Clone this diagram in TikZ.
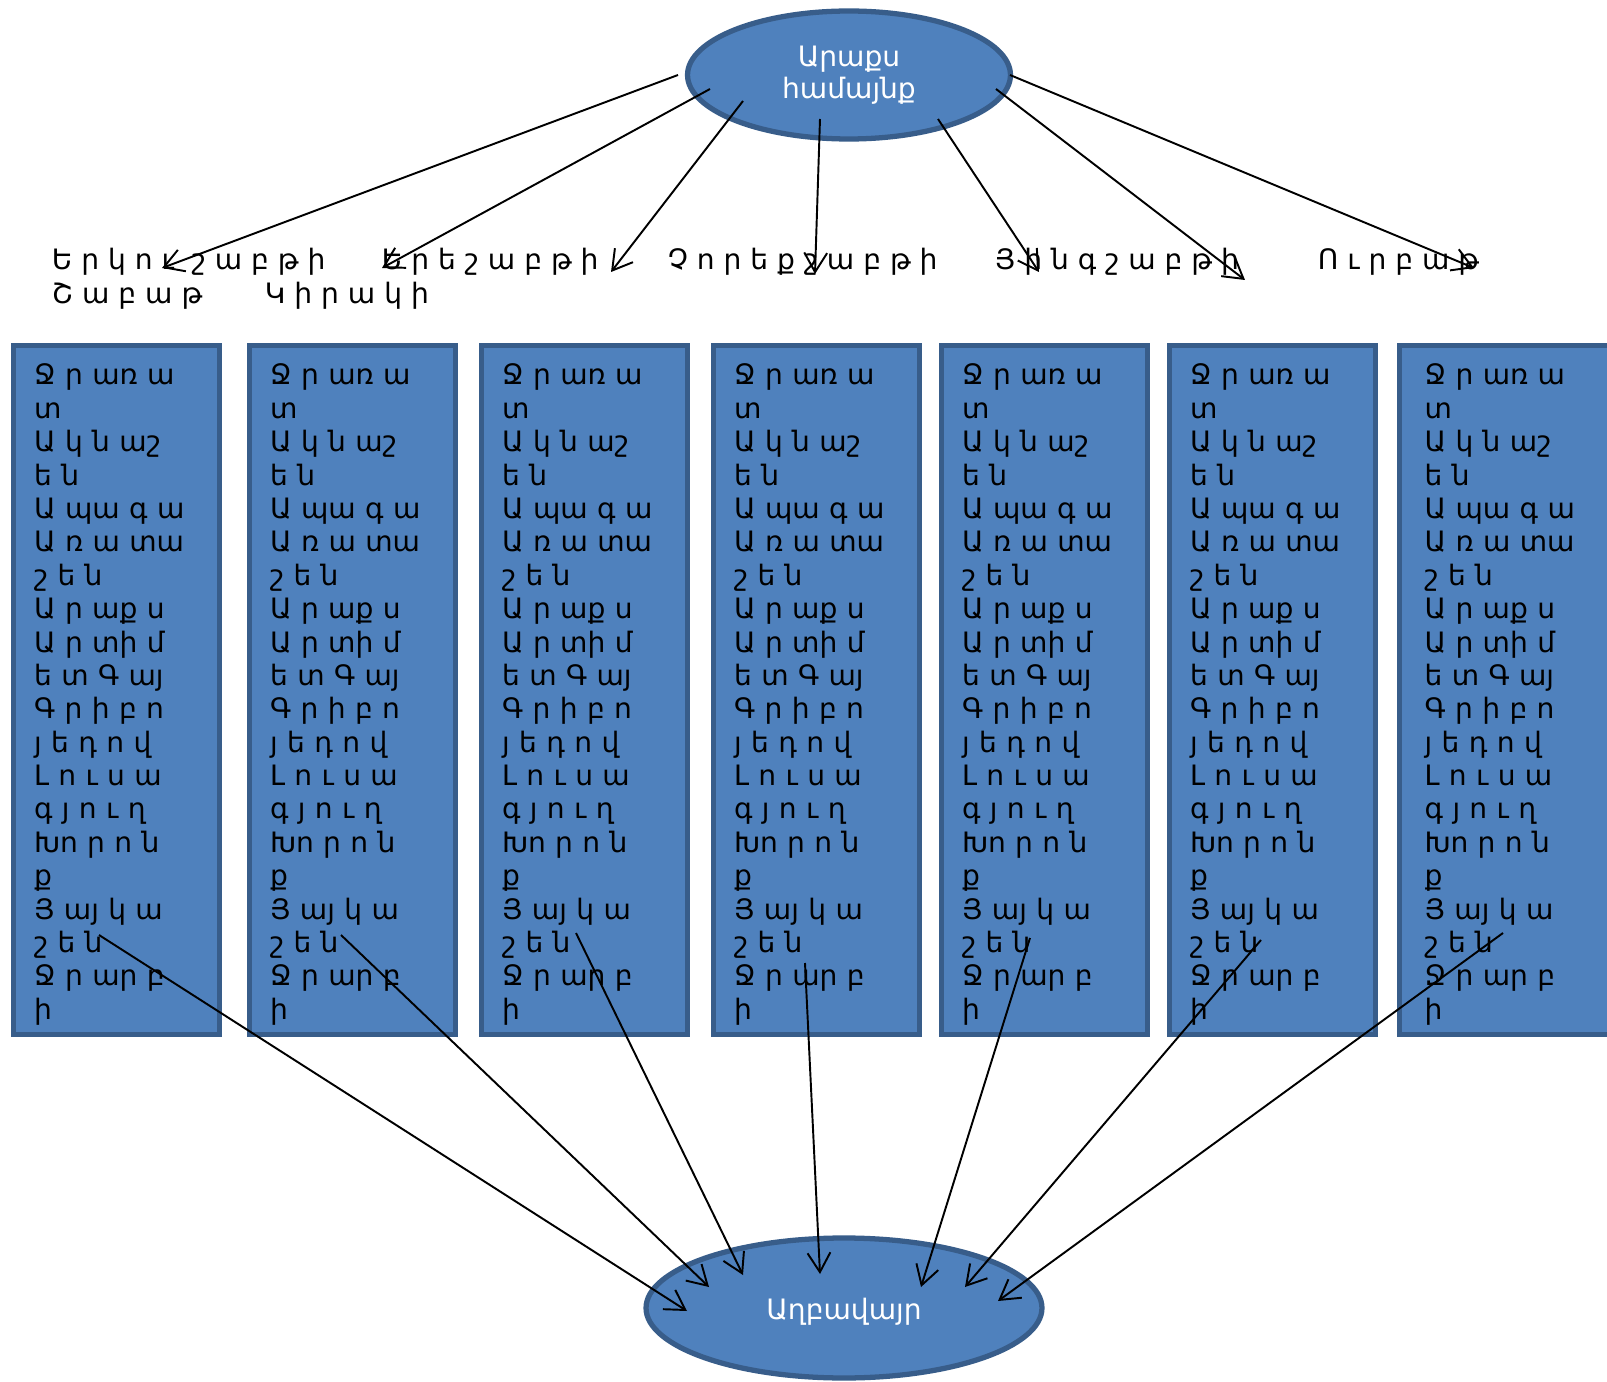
\documentclass[tikz,border=0pt]{standalone}
\usepackage{fontspec}
\setmainfont{DejaVu Sans}
\usetikzlibrary{shapes.geometric,arrows.meta}
\definecolor{ofblue}{HTML}{4F81BD}
\definecolor{ofedge}{HTML}{385D8A}
\newcommand{\gyughner}{\rule{0pt}{17pt}Ջ ր առ ա\\տ\\Ա կ ն աշ\\ե ն\\Ա պա գ ա\\Ա ռ ա տա\\շ ե ն\\Ա ր աք ս\\Ա ր տի մ\\ե տ Գ այ\\Գ ր ի բ ո\\յ ե դ ո վ\\Լ ո ւ ս ա\\գ յ ո ւ ղ\\Խո ր ո ն\\ք\\Յ այ կ ա\\շ ե ն\\Ջ ր ար բ\\ի}

\begin{document}
\begin{tikzpicture}[x=0.02cm,y=-0.02cm,line width=1.1pt,>={Straight Barb[length=11pt,width=13pt]}]
	\tikzstyle{gbox}=[rectangle,draw=ofedge,fill=ofblue,line width=3pt,minimum width=4.12cm,minimum height=13.78cm,inner xsep=11pt,text width=3.3cm,align=left,font=\fontsize{16}{19}\selectfont,anchor=north west];
	\tikzstyle{hamaynk}=[ellipse,draw=ofedge,fill=ofblue,line width=3pt,text=white,align=center,inner sep=0];
	\tikzstyle{orn}=[inner sep=0,anchor=base west,font=\fontsize{16}{19}\selectfont];
	\useasboundingbox (0,0) rectangle (1607,1382);
	%% ellipses
	\node[hamaynk,minimum width=6.46cm,minimum height=2.56cm,font=\fontsize{16}{18}\selectfont] (hamaynq) at (849,75) {Արաքս\\համայնք};
	\node[hamaynk,minimum width=7.92cm,minimum height=2.8cm,font=\fontsize{16}{19}\selectfont,text height=13.6pt,text depth=0pt] (aghbavayr) at (844,1308) {Աղբավայր};
	%% days
	\node[orn] (d1) at (51,270)   {Ե ր կ ո ւ \ շ ա բ թ ի};
	\node[orn] (d2) at (381,270)  {Ե ր ե շ ա բ թ ի};
	\node[orn] (d3) at (667,270)  {Չ ո ր ե ք շ ա բ թ ի};
	\node[orn] (d4) at (994,270)  {Յ ի ն գ շ ա բ թ ի};
	\node[orn] (d5) at (1317,270) {Ո ւ ր բ ա թ};
	\node[orn] (d6) at (51,304)   {Շ ա բ ա թ};
	\node[orn] (d7) at (264,304)  {Կ ի ր ա կ ի};
	%% boxes
	\node[gbox] (b1) at (11,343)   {\gyughner};
	\node[gbox] (b2) at (247,343)  {\gyughner};
	\node[gbox] (b3) at (479,343)  {\gyughner};
	\node[gbox] (b4) at (711,343)  {\gyughner};
	\node[gbox] (b5) at (939,343)  {\gyughner};
	\node[gbox] (b6) at (1167,343) {\gyughner};
	\node[gbox,minimum width=4.3cm] (b7) at (1397,343) {\gyughner};
	%% ends
	\coordinate (s1) at ([shift={(-171,0)}]hamaynq.center);
	\coordinate (s2) at ([shift={(-139,14)}]hamaynq.center);
	\coordinate (s3) at ([shift={(-106,26)}]hamaynq.center);
	\coordinate (s4) at ([shift={(-29,44)}]hamaynq.center);
	\coordinate (s5) at ([shift={(89,44)}]hamaynq.center);
	\coordinate (s6) at ([shift={(147,14)}]hamaynq.center);
	\coordinate (s7) at ([shift={(161,0)}]hamaynq.center);
	\coordinate (e1) at (162,268);
	\coordinate (e2) at (382,268);
	\coordinate (e3) at (611,272);
	\coordinate (e4) at (815,274);
	\coordinate (e5) at (1039,272);
	\coordinate (e6) at (1245,280);
	\coordinate (e7) at (1474,268);
	\coordinate (f1) at (99,935);
	\coordinate (f2) at (341,935);
	\coordinate (f3) at (576,933);
	\coordinate (f4) at (805,963);
	\coordinate (f5) at (1030,938);
	\coordinate (f6) at (1261,940);
	\coordinate (f7) at (1503,933);
	\coordinate (g1) at ([shift={(-157,3)}]aghbavayr.center);
	\coordinate (g2) at ([shift={(-135,-21)}]aghbavayr.center);
	\coordinate (g3) at ([shift={(-101,-33)}]aghbavayr.center);
	\coordinate (g4) at ([shift={(-24,-34)}]aghbavayr.center);
	\coordinate (g5) at ([shift={(77,-21)}]aghbavayr.center);
	\coordinate (g6) at ([shift={(121,-21)}]aghbavayr.center);
	\coordinate (g7) at ([shift={(154,-7)}]aghbavayr.center);
	%% connections
	\draw[->] (s1) -- (e1);
	\draw[->] (s2) -- (e2);
	\draw[->] (s3) -- (e3);
	\draw[->] (s4) -- (e4);
	\draw[->] (s5) -- (e5);
	\draw[->] (s6) -- (e6);
	\draw[->] (s7) -- (e7);
	\draw[->] (f1) -- (g1);
	\draw[->] (f2) -- (g2);
	\draw[->] (f3) -- (g3);
	\draw[->] (f4) -- (g4);
	\draw[->] (f5) -- (g5);
	\draw[->] (f6) -- (g6);
	\draw[->] (f7) -- (g7);
\end{tikzpicture}
\end{document}
